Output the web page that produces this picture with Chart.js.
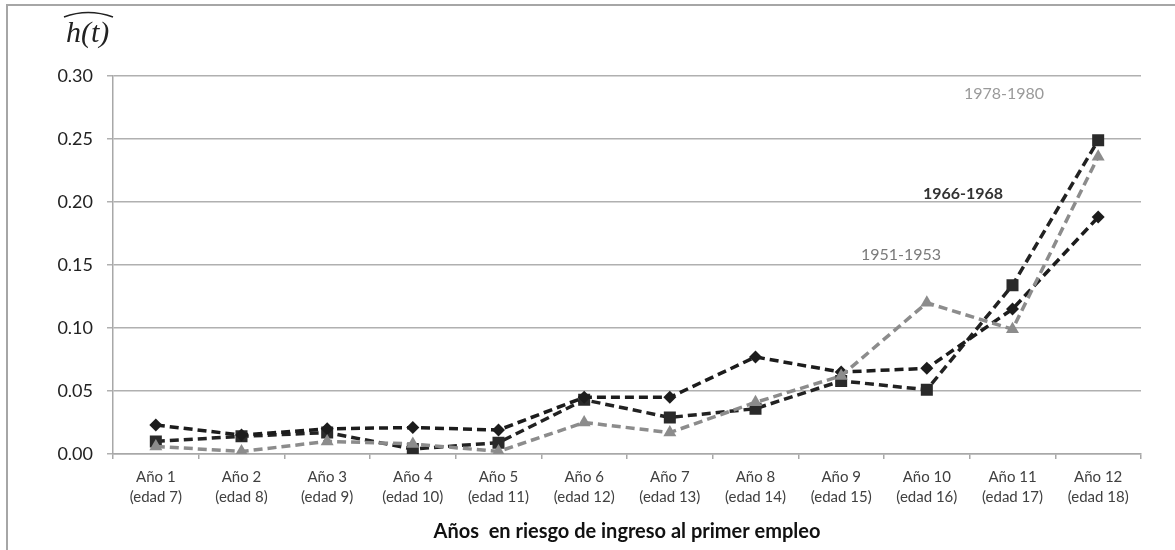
<!DOCTYPE html>
<html>
<head>
<meta charset="utf-8">
<script src="https://cdn.jsdelivr.net/npm/chart.js@4/dist/chart.umd.min.js"></script>
<style>
html,body{margin:0;padding:0;background:#fff;}
#wrap{position:relative;width:1175px;height:550px;}
</style>
</head>
<body>
<div id="wrap"><canvas id="c" width="1175" height="550"></canvas></div>
<script>
const categories = [
  ['Año 1','(edad 7)'],['Año 2','(edad 8)'],['Año 3','(edad 9)'],['Año 4','(edad 10)'],
  ['Año 5','(edad 11)'],['Año 6','(edad 12)'],['Año 7','(edad 13)'],['Año 8','(edad 14)'],
  ['Año 9','(edad 15)'],['Año 10','(edad 16)'],['Año 11','(edad 17)'],['Año 12','(edad 18)']
];
const cohort1951 = [0.023, 0.015, 0.020, 0.021, 0.019, 0.045, 0.045, 0.077, 0.065, 0.068, 0.115, 0.188];
const cohort1966 = [0.010, 0.014, 0.017, 0.004, 0.009, 0.043, 0.029, 0.036, 0.058, 0.051, 0.134, 0.249];
const cohort1978 = [0.006, 0.002, 0.010, 0.008, 0.002, 0.025, 0.017, 0.041, 0.062, 0.120, 0.099, 0.236];
const seriesNames = ['1951-1953', '1966-1968', '1978-1980'];
const yTicks = [0, 0.05, 0.10, 0.15, 0.20, 0.25, 0.30];
const axisTitle = 'Años  en riesgo de ingreso al primer empleo';
const yLabel = 'h(t)';

const FONT = 'Lato, "Open Sans", sans-serif';

const decor = {
  id: 'decor',
  beforeDraw(chart) {
    const ctx = chart.ctx;
    ctx.save();
    ctx.strokeStyle = '#a6a6a6';
    ctx.lineWidth = 2;
    ctx.beginPath();
    ctx.moveTo(7, 551);
    ctx.lineTo(7, 5);
    ctx.lineTo(1176, 5);
    ctx.stroke();
    ctx.restore();
  },
  afterDraw(chart) {
    const ctx = chart.ctx;
    ctx.save();
    // y label with wide hat
    ctx.fillStyle = '#222';
    ctx.font = 'italic 30px "Liberation Serif", serif';
    ctx.textBaseline = 'alphabetic';
    ctx.textAlign = 'left';
    ctx.fillText(yLabel, 66, 42);
    ctx.strokeStyle = '#222';
    ctx.lineWidth = 1.5;
    ctx.beginPath();
    ctx.moveTo(64, 17);
    ctx.quadraticCurveTo(88, 8, 113, 17);
    ctx.stroke();
    // series labels
    ctx.textAlign = 'center';
    ctx.textBaseline = 'middle';
    ctx.font = '16px ' + FONT;
    ctx.fillStyle = '#9a9a9a';
    ctx.fillText(seriesNames[2], 1004, 94);
    ctx.font = 'bold 16px ' + FONT;
    ctx.fillStyle = '#333';
    ctx.fillText(seriesNames[1], 963, 194);
    ctx.font = '16px ' + FONT;
    ctx.fillStyle = '#7a7a7a';
    ctx.fillText(seriesNames[0], 901, 255);
    ctx.restore();
  }
};

new Chart(document.getElementById('c'), {
  type: 'line',
  data: {
    labels: categories,
    datasets: [
      {
        label: seriesNames[2], data: cohort1978,
        borderColor: '#8c8c8c', backgroundColor: '#8c8c8c',
        borderWidth: 3.5, borderDash: [9, 5],
        pointStyle: 'triangle', pointRadius: 7.5, pointBorderWidth: 0,
        tension: 0
      },
      {
        label: seriesNames[0], data: cohort1951,
        borderColor: '#1c1c1c', backgroundColor: '#1c1c1c',
        borderWidth: 3.5, borderDash: [9, 5],
        pointStyle: 'rectRot', pointRadius: 6.5, pointBorderWidth: 0,
        tension: 0
      },
      {
        label: seriesNames[1], data: cohort1966,
        borderColor: '#222', backgroundColor: '#2a2a2a',
        borderWidth: 3.5, borderDash: [9, 5],
        pointStyle: 'rect', pointRadius: 8.5, pointBorderWidth: 0,
        tension: 0
      }
    ]
  },
  options: {
    responsive: false,
    animation: false,
    layout: { padding: { left: 0, top: 76, right: 34, bottom: 0 } },
    plugins: { legend: { display: false }, tooltip: { enabled: false } },
    scales: {
      x: {
        offset: true,
        grid: { display: true, drawOnChartArea: false, drawTicks: true, tickLength: 5, offset: true, color: '#a8a8a8', lineWidth: 1.5 },
        border: { display: true, color: '#a8a8a8', width: 1.5 },
        ticks: { color: '#404040', font: { family: FONT, size: 15, lineHeight: 1.33 }, padding: 8, maxRotation: 0, autoSkip: false },
        title: { display: true, text: axisTitle, color: '#111', font: { family: FONT, size: 20, weight: 'bold' }, padding: { top: 4, bottom: 6 } },
        afterFit(s) { s.height = 96; }
      },
      y: {
        min: 0, max: 0.30,
        afterBuildTicks(s) { s.ticks = yTicks.map(v => ({ value: v })); },
        grid: { color: '#b0b0b0', lineWidth: 1.5, drawTicks: true, tickLength: 6 },
        border: { display: true, color: '#a8a8a8', width: 1.5 },
        ticks: { color: '#222', font: { family: FONT, size: 18 }, padding: 14, callback: v => Number(v).toFixed(2) },
        afterFit(s) { s.width = 113; }
      }
    }
  },
  plugins: [decor]
});
</script>
</body>
</html>
